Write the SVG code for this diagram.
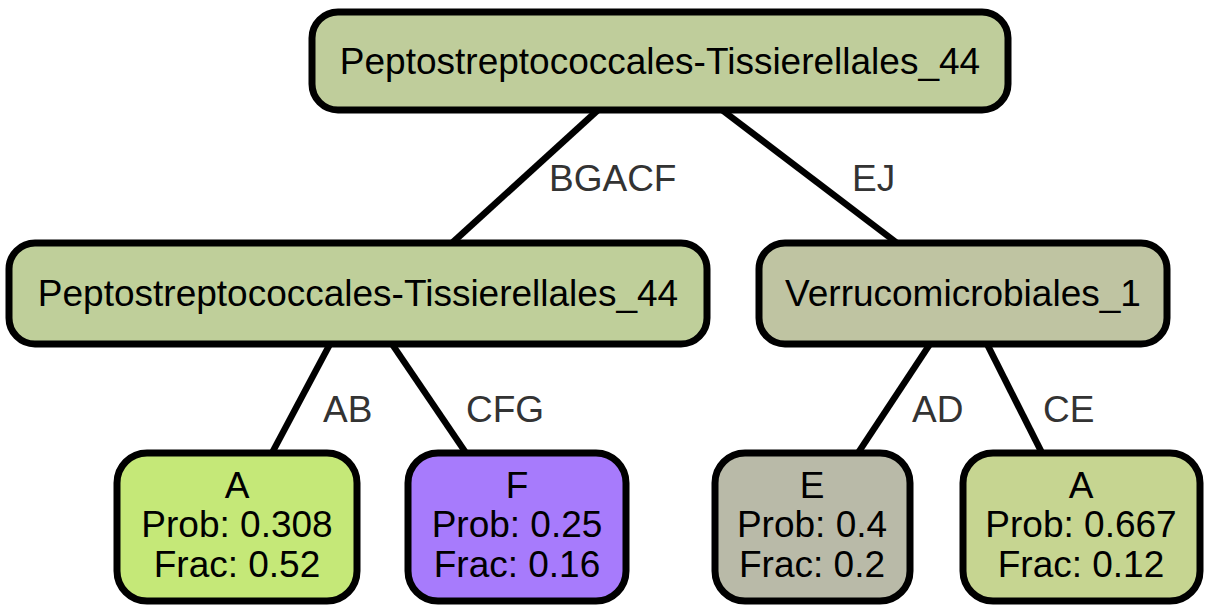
<svg xmlns="http://www.w3.org/2000/svg" width="1213" height="613" viewBox="0 0 1213 613">
<style>
.box{stroke:#000;stroke-width:7}
.nt{font-family:"Liberation Sans",Arial,Helvetica,sans-serif;font-size:37px;fill:#000;text-anchor:middle}
.el{font-family:"Liberation Sans",Arial,Helvetica,sans-serif;font-size:37px;fill:#333;text-anchor:start}
.edge{stroke:#000;stroke-width:6.5;fill:none}
</style>
<rect width="1213" height="613" fill="#fff"/>
<g id="edges">
<line class="edge" x1="598" y1="110" x2="452" y2="243"/>
<line class="edge" x1="722" y1="110" x2="897" y2="243"/>
<line class="edge" x1="330" y1="344" x2="272" y2="453"/>
<line class="edge" x1="392" y1="344" x2="466" y2="453"/>
<line class="edge" x1="930" y1="344" x2="858" y2="453"/>
<line class="edge" x1="987" y1="344" x2="1042" y2="453"/>
<text class="el" x="549" y="191">BGACF</text>
<text class="el" x="852" y="191">EJ</text>
<text class="el" x="323" y="422">AB</text>
<text class="el" x="466" y="422">CFG</text>
<text class="el" x="912" y="422">AD</text>
<text class="el" x="1043" y="422">CE</text>
</g>
<g id="root">
<rect class="box" x="312" y="12" width="696" height="98" rx="26" fill="#BFCD9B"/>
<text class="nt" x="660" y="74">Peptostreptococcales-Tissierellales_44</text>
</g>
<g id="midleft">
<rect class="box" x="9" y="243" width="698" height="101" rx="26" fill="#BFCF9A"/>
<text class="nt" x="358" y="306">Peptostreptococcales-Tissierellales_44</text>
</g>
<g id="midright">
<rect class="box" x="759" y="243" width="408" height="101" rx="26" fill="#BFC4A2"/>
<text class="nt" x="963" y="306">Verrucomicrobiales_1</text>
</g>
<g id="leafA">
<rect class="box" x="117" y="453" width="240" height="148" rx="30" fill="#C5E878"/>
<text class="nt" x="237" y="498">A</text>
<text class="nt" x="237" y="537">Prob: 0.308</text>
<text class="nt" x="237" y="577">Frac: 0.52</text>
</g>
<g id="leafF">
<rect class="box" x="408" y="453" width="218" height="148" rx="30" fill="#A77BFC"/>
<text class="nt" x="517" y="498">F</text>
<text class="nt" x="517" y="537">Prob: 0.25</text>
<text class="nt" x="517" y="577">Frac: 0.16</text>
</g>
<g id="leafE">
<rect class="box" x="715" y="453" width="195" height="148" rx="30" fill="#B9BAA8"/>
<text class="nt" x="812" y="498">E</text>
<text class="nt" x="812" y="537">Prob: 0.4</text>
<text class="nt" x="812" y="577">Frac: 0.2</text>
</g>
<g id="leafA2">
<rect class="box" x="963" y="453" width="237" height="148" rx="30" fill="#C6D591"/>
<text class="nt" x="1081" y="498">A</text>
<text class="nt" x="1081" y="537">Prob: 0.667</text>
<text class="nt" x="1081" y="577">Frac: 0.12</text>
</g>
</svg>
